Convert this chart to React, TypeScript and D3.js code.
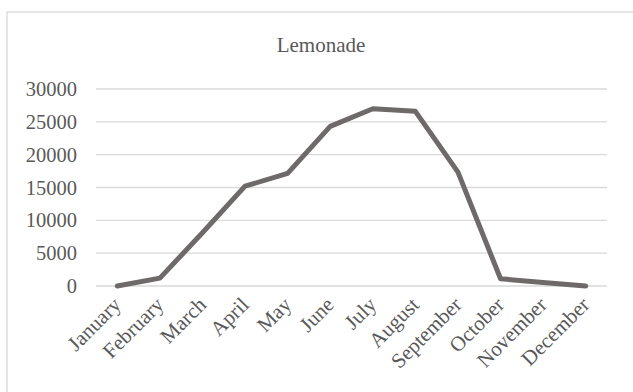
import React from "react";
import * as d3 from "d3";

const months = [
  "January", "February", "March", "April", "May", "June",
  "July", "August", "September", "October", "November", "December",
];
const sales = [0, 1200, 8100, 15200, 17150, 24300, 27000, 26600, 17350, 1100, 550, 0];
const yTicks = [0, 5000, 10000, 15000, 20000, 25000, 30000];
const title = "Lemonade";

const W = 633;
const H = 392;
const FONT = "'Liberation Serif', 'Times New Roman', serif";
const TEXT = "#595959";

export default function App() {
  const x = d3.scaleBand<string>().domain(months).range([96, 607]);
  const y = d3.scaleLinear().domain([0, 30000]).range([286, 89]);
  const cx = (m: string) => (x(m) as number) + x.bandwidth() / 2;

  const line = d3
    .line<number>()
    .x((_, i) => cx(months[i]))
    .y((d) => y(d));

  return (
    <svg
      width={W}
      height={H}
      style={{ position: "absolute", left: 0, top: 0, background: "#fff" }}
      fontFamily={FONT}
    >
      <rect x={7} y={12} width={640} height={400} fill="#fff" stroke="#d9d9d9" strokeWidth={1.3} />
      <text x={321} y={52} textAnchor="middle" fontSize={21} fill={TEXT}>
        {title}
      </text>
      {yTicks.map((t) => (
        <g key={t}>
          <line x1={96} x2={607} y1={y(t)} y2={y(t)} stroke="#d9d9d9" strokeWidth={1.3} />
          <text x={77} y={y(t) + 7} textAnchor="end" fontSize={20.5} fill={TEXT}>
            {t}
          </text>
        </g>
      ))}
      <path
        d={line(sales) ?? ""}
        fill="none"
        stroke="#6f6a6a"
        strokeWidth={5}
        strokeLinejoin="round"
        strokeLinecap="round"
      />
      {months.map((m) => (
        <text
          key={m}
          transform={`translate(${cx(m) + 5},${306}) rotate(-45)`}
          textAnchor="end"
          fontSize={21}
          fill={TEXT}
        >
          {m}
        </text>
      ))}
    </svg>
  );
}
